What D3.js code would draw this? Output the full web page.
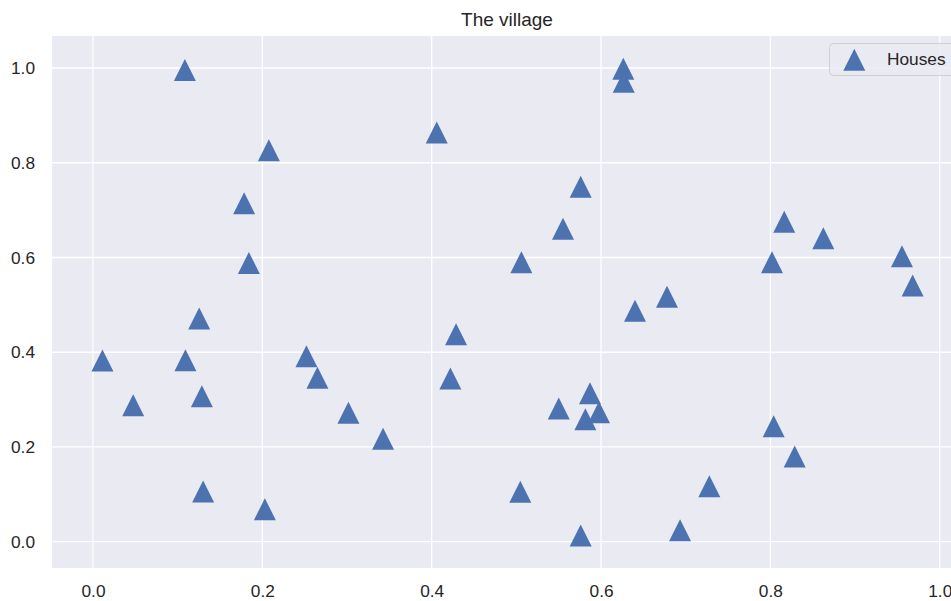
<!DOCTYPE html>
<html>
<head>
<meta charset="utf-8">
<script src="https://cdn.jsdelivr.net/npm/d3@7"></script>
<style>
  html, body { margin: 0; padding: 0; background: #ffffff; }
  svg { display: block; }
  text { font-family: "Liberation Sans", Arial, "DejaVu Sans", sans-serif; fill: #262626; }
</style>
</head>
<body>
<svg id="chart" width="951" height="601"></svg>
<script>
// ---- data ----
const title = "The village";
const seriesName = "Houses";
const housesX = [0.1085, 0.2077, 0.1785, 0.1841, 0.1254, 0.0112, 0.1092, 0.0475, 0.1286, 0.1301,
                 0.2030, 0.2521, 0.2651, 0.3017, 0.3426, 0.4060, 0.4288, 0.4221, 0.5047, 0.5059,
                 0.5551, 0.5760, 0.6263, 0.6268, 0.5501, 0.5870, 0.5815, 0.5976, 0.5760, 0.6401,
                 0.6779, 0.6933, 0.7279, 0.8019, 0.8164, 0.8039, 0.8287, 0.8625, 0.9554, 0.9680];
const housesY = [0.9958, 0.8265, 0.7146, 0.5883, 0.4712, 0.3825, 0.3832, 0.2882, 0.3072, 0.1060,
                 0.0686, 0.3916, 0.3462, 0.2721, 0.2172, 0.8638, 0.4380, 0.3445, 0.1053, 0.5900,
                 0.6605, 0.7492, 0.9983, 0.9709, 0.2812, 0.3135, 0.2586, 0.2732, 0.0131, 0.4874,
                 0.5170, 0.0241, 0.1172, 0.5900, 0.6755, 0.2438, 0.1799, 0.6405, 0.6025, 0.5408];
const xTicks = [0.0, 0.2, 0.4, 0.6, 0.8, 1.0];
const yTicks = [0.0, 0.2, 0.4, 0.6, 0.8, 1.0];
const xDomain = [-0.0484, 1.0263];
const yDomain = [-0.0555, 1.0676];

// ---- layout ----
const plot = { left: 52, right: 962, top: 36, bottom: 568 };
const color = "#4C72B0";
const bg = "#EAEAF2";
const markerSize = 22;

const svg = d3.select("#chart");
const x = d3.scaleLinear().domain(xDomain).range([plot.left, plot.right]);
const y = d3.scaleLinear().domain(yDomain).range([plot.bottom, plot.top]);

svg.append("rect")
  .attr("x", plot.left).attr("y", plot.top)
  .attr("width", plot.right - plot.left).attr("height", plot.bottom - plot.top)
  .attr("fill", bg);

// grid
svg.append("g").selectAll("line").data(xTicks).join("line")
  .attr("x1", d => x(d)).attr("x2", d => x(d))
  .attr("y1", plot.top).attr("y2", plot.bottom)
  .attr("stroke", "#ffffff").attr("stroke-width", 1.3);
svg.append("g").selectAll("line").data(yTicks).join("line")
  .attr("x1", plot.left).attr("x2", plot.right)
  .attr("y1", d => y(d)).attr("y2", d => y(d))
  .attr("stroke", "#ffffff").attr("stroke-width", 1.3);

// axes
const fmt = d3.format(".1f");
const xAxis = svg.append("g")
  .attr("transform", `translate(0,${plot.bottom})`)
  .call(d3.axisBottom(x).tickValues(xTicks).tickFormat(fmt).tickSize(0).tickPadding(17));
const yAxis = svg.append("g")
  .attr("transform", `translate(${plot.left},0)`)
  .call(d3.axisLeft(y).tickValues(yTicks).tickFormat(fmt).tickSize(0).tickPadding(17));
[xAxis, yAxis].forEach(a => {
  a.select(".domain").remove();
  a.selectAll("text").attr("font-size", "17.3px").attr("fill", "#262626")
    .style("font-family", '"Liberation Sans", Arial, sans-serif');
});

// triangle marker
const tri = s => `M0,${-s/2}L${s/2},${s/2}L${-s/2},${s/2}Z`;

svg.append("g").selectAll("path").data(d3.range(housesX.length)).join("path")
  .attr("d", tri(markerSize))
  .attr("transform", i => `translate(${x(housesX[i])},${y(housesY[i])})`)
  .attr("fill", color);

// title
svg.append("text")
  .attr("x", (plot.left + plot.right) / 2)
  .attr("y", 26)
  .attr("text-anchor", "middle")
  .attr("font-size", "19px")
  .text(title);

// legend
const lg = svg.append("g");
lg.append("rect")
  .attr("x", 829.5).attr("y", 43.5).attr("width", 140).attr("height", 32)
  .attr("rx", 4).attr("fill", bg).attr("fill-opacity", 0.8)
  .attr("stroke", "#cfcfd4").attr("stroke-width", 1);
lg.append("path")
  .attr("d", tri(markerSize))
  .attr("transform", "translate(854.3,59.8)")
  .attr("fill", color);
lg.append("text")
  .attr("x", 887).attr("y", 64.5)
  .attr("font-size", "17.3px")
  .text(seriesName);
</script>
</body>
</html>
